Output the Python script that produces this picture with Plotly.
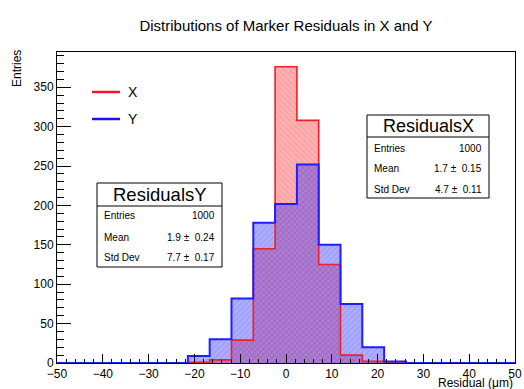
import plotly.graph_objects as go

# ---------------- data ----------------
x_min, x_max, n_bins = -50.0, 50.0, 21
counts_x = [0, 0, 0, 0, 0, 0, 1, 4, 29, 145, 376, 308, 125, 10, 2, 0, 0, 0, 0, 0, 0]
counts_y = [0, 0, 0, 0, 0, 0, 9, 30, 82, 178, 202, 252, 150, 75, 20, 2, 0, 0, 0, 0, 0]
series_names = ["X", "Y"]
stats_x = {"name": "ResidualsX", "entries": "1000", "mean": "1.7", "mean_err": "0.15", "std": "4.7", "std_err": "0.11"}
stats_y = {"name": "ResidualsY", "entries": "1000", "mean": "1.9", "mean_err": "0.24", "std": "7.7", "std_err": "0.17"}
y_ticks = [0, 50, 100, 150, 200, 250, 300, 350]
x_ticks = [-50, -40, -30, -20, -10, 0, 10, 20, 30, 40, 50]
title = "Distributions of Marker Residuals in X and Y"
x_title = "Residual (\u03bcm)"
y_title = "Entries"

bw = (x_max - x_min) / n_bins
edges = [x_min + i * bw for i in range(n_bins + 1)]
centers = [x_min + (i + 0.5) * bw for i in range(n_bins)]

W, H = 524, 389
L, R, T, B = 57, 515, 52, 363


def px(x):
    return (x - L) / (R - L)


def py(y):
    return (B - y) / (B - T)


FONT = "Liberation Sans, Arial, Helvetica, sans-serif"

fig = go.Figure()

# fills (red first, blue on top)
fig.add_trace(go.Bar(
    x=centers, y=counts_x, width=bw, showlegend=False, hoverinfo="skip",
    marker=dict(color="rgba(255,60,60,0.40)", line_width=0,
                pattern=dict(shape="\\", fgcolor="rgba(230,0,0,0.45)", bgcolor="rgba(255,60,60,0.40)",
                             size=4, solidity=0.2, fillmode="overlay")),
))
fig.add_trace(go.Scatter(
    x=edges, y=counts_x + [counts_x[-1]], mode="lines", line_shape="hv",
    line=dict(color="rgb(240,30,40)", width=1.6), showlegend=False, hoverinfo="skip",
))
fig.add_trace(go.Bar(
    x=centers, y=counts_y, width=bw, showlegend=False, hoverinfo="skip",
    marker=dict(color="rgba(40,40,255,0.38)", line_width=0,
                pattern=dict(shape="/", fgcolor="rgba(0,0,220,0.4)", bgcolor="rgba(40,40,255,0.38)",
                             size=4, solidity=0.2, fillmode="overlay")),
))
fig.add_trace(go.Scatter(
    x=edges, y=counts_y + [counts_y[-1]], mode="lines", line_shape="hv",
    line=dict(color="rgb(30,30,255)", width=2), showlegend=False, hoverinfo="skip",
))

ymax = max(max(counts_x), max(counts_y)) * 1.05

shapes = []
annotations = []

# legend
for i, (name, col) in enumerate(zip(series_names, ["rgb(240,20,40)", "rgb(20,20,240)"])):
    yy = 92 + i * 27
    shapes.append(dict(type="line", xref="paper", yref="paper", x0=px(92), x1=px(120), y0=py(yy), y1=py(yy),
                       line=dict(color=col, width=2.5)))
    annotations.append(dict(text=name, xref="paper", yref="paper", x=px(126), y=py(yy), xanchor="left",
                            yanchor="middle", showarrow=False, font=dict(family=FONT, size=14, color="black")))


def stats_box(st, x0, x1, y0, ysep, y1, rows_y, tsize):
    shapes.append(dict(type="rect", xref="paper", yref="paper", x0=px(x0), x1=px(x1), y0=py(y1), y1=py(y0),
                       line=dict(color="black", width=1), fillcolor="white", layer="above"))
    shapes.append(dict(type="line", xref="paper", yref="paper", x0=px(x0), x1=px(x1), y0=py(ysep), y1=py(ysep),
                       line=dict(color="black", width=1), layer="above"))
    annotations.append(dict(text=st["name"], xref="paper", yref="paper", x=px((x0 + x1) / 2), y=py((y0 + ysep) / 2),
                            xanchor="center", yanchor="middle", showarrow=False,
                            font=dict(family=FONT, size=tsize, color="black")))
    labels = ["Entries", "Mean", "Std Dev"]
    vals = [st["entries"],
            st["mean"] + " \u00b1  " + st["mean_err"],
            st["std"] + " \u00b1  " + st["std_err"]]
    for lab, val, yy in zip(labels, vals, rows_y):
        annotations.append(dict(text=lab, xref="paper", yref="paper", x=px(x0 + 5), y=py(yy), xanchor="left",
                                yanchor="middle", showarrow=False, font=dict(family=FONT, size=10, color="black")))
        annotations.append(dict(text=val, xref="paper", yref="paper", x=px(x1 - 5), y=py(yy), xanchor="right",
                                yanchor="middle", showarrow=False, font=dict(family=FONT, size=10, color="black")))


stats_box(stats_x, 367, 489, 115, 137, 198, [148, 168.5, 189], 18)
stats_box(stats_y, 97, 222, 183, 206, 267, [215, 237, 257.5], 18.5)

# axis titles
annotations.append(dict(text=x_title, xref="paper", yref="paper", x=1.0, y=py(383), xanchor="right",
                        yanchor="middle", showarrow=False, font=dict(family=FONT, size=12, color="black")))
annotations.append(dict(text=y_title, xref="paper", yref="paper", x=px(17), y=py(69), xanchor="center",
                        yanchor="middle", textangle=-90, showarrow=False,
                        font=dict(family=FONT, size=12, color="black")))

fig.update_layout(
    width=W, height=H, autosize=False,
    margin=dict(l=L, r=W - R, t=T, b=H - B, pad=0, autoexpand=False),
    paper_bgcolor="white", plot_bgcolor="white",
    barmode="overlay", bargap=0,
    showlegend=False,
    title=dict(text=title, x=0.5, xref="paper", xanchor="center", y=1 - 26 / H, yanchor="middle",
               font=dict(family=FONT, size=15, color="black")),
    font=dict(family=FONT, size=12, color="black"),
    shapes=shapes, annotations=annotations,
    xaxis=dict(range=[x_min, x_max], tickvals=x_ticks, showgrid=False, zeroline=False, automargin=False,
               showline=True, mirror=True, linecolor="black", linewidth=1,
               ticks="inside", ticklen=9, tickcolor="black", tickwidth=1,
               minor=dict(dtick=2, ticks="inside", ticklen=4.5, tickcolor="black", tickwidth=1),
               tickfont=dict(family=FONT, size=12, color="black")),
    yaxis=dict(range=[0, ymax], tickvals=y_ticks, showgrid=False, zeroline=False, automargin=False,
               showline=True, mirror=True, linecolor="black", linewidth=1,
               ticks="inside", ticklen=14, tickcolor="black", tickwidth=1,
               minor=dict(dtick=10, ticks="inside", ticklen=7, tickcolor="black", tickwidth=1),
               tickfont=dict(family=FONT, size=12, color="black")),
)

fig.write_html(
    "out.html",
    config={"displayModeBar": False, "responsive": False},
    post_script="document.body.style.margin='0';document.body.style.overflow='hidden';"
                "document.documentElement.style.overflow='hidden';",
)
